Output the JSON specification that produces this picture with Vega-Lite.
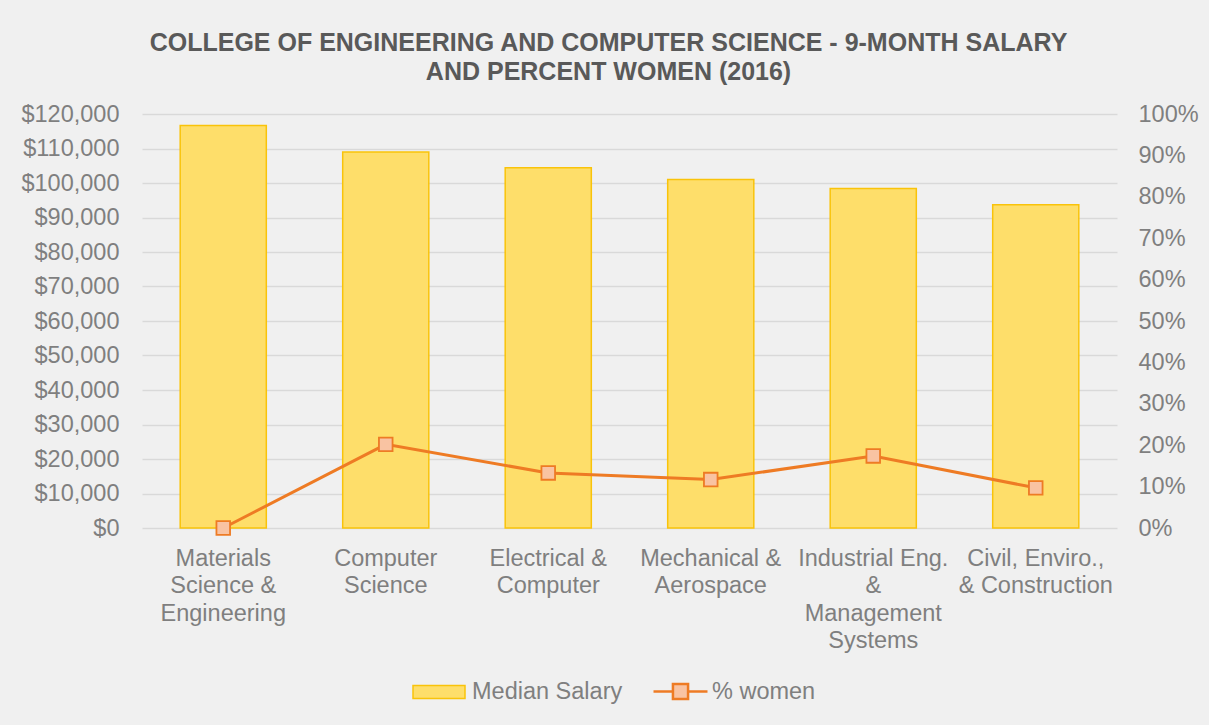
{
  "$schema": "https://vega.github.io/schema/vega-lite/v6.json",
  "width": 975,
  "height": 414,
  "autosize": {"type": "none"},
  "padding": {"left": 142, "top": 114, "right": 92, "bottom": 197},
  "background": "#F0F0F0",
  "config": {
    "font": "Liberation Sans",
    "view": {"stroke": null},
    "legend": {"padding": 0}
  },
  "title": {
    "text": ["COLLEGE OF ENGINEERING AND COMPUTER SCIENCE - 9-MONTH SALARY", "AND PERCENT WOMEN (2016)"],
    "font": "Liberation Sans",
    "fontSize": 25,
    "fontWeight": "bold",
    "color": "#595959",
    "lineHeight": 29,
    "anchor": "middle",
    "offset": 17,
    "dx": -21
  },
  "data": {
    "values": [
      {"department": "Materials|Science &|Engineering", "median_salary": 116700, "pct_women": 0.0},
      {"department": "Computer|Science", "median_salary": 109000, "pct_women": 0.202},
      {"department": "Electrical &|Computer", "median_salary": 104400, "pct_women": 0.133},
      {"department": "Mechanical &|Aerospace", "median_salary": 101000, "pct_women": 0.117},
      {"department": "Industrial Eng.|&|Management|Systems", "median_salary": 98400, "pct_women": 0.174},
      {"department": "Civil, Enviro.,|& Construction", "median_salary": 93700, "pct_women": 0.097}
    ]
  },
  "encoding": {
    "x": {
      "field": "department",
      "type": "nominal",
      "sort": null,
      "scale": {"paddingInner": 0.47, "paddingOuter": 0.235},
      "axis": {
        "title": null,
        "domain": false,
        "ticks": false,
        "labelAngle": 0,
        "labelExpr": "split(datum.value, '|')",
        "labelFontSize": 23.5,
        "labelColor": "#7F7F7F",
        "labelPadding": 18,
        "labelLineHeight": 27.5,
        "labelLimit": 400,
        "labelOverlap": false,
        "labelBound": false
      }
    }
  },
  "layer": [
    {
      "mark": {"type": "bar", "stroke": "#F9C30A", "strokeWidth": 1.5},
      "encoding": {
        "y": {
          "field": "median_salary",
          "type": "quantitative",
          "scale": {"domain": [0, 120000]},
          "axis": {
            "title": null,
            "format": "$,.0f",
            "values": [0, 10000, 20000, 30000, 40000, 50000, 60000, 70000, 80000, 90000, 100000, 110000, 120000],
            "domain": false,
            "ticks": false,
            "labelPadding": 23,
            "labelFontSize": 23.5,
            "labelColor": "#7F7F7F",
            "grid": true,
            "gridColor": "#D9D9D9",
            "gridWidth": 1.5
          }
        },
        "fill": {
          "datum": "Median Salary",
          "scale": {"range": ["#FEDE6A"]},
          "legend": {
            "orient": "none",
            "legendX": 270,
            "legendY": 551,
            "title": null,
            "symbolType": "M-1,-0.25H1V0.25H-1Z",
            "symbolSize": 2704,
            "symbolStrokeColor": "#F9C30A",
            "symbolStrokeWidth": 1.5,
            "labelFontSize": 23.5,
            "labelColor": "#7F7F7F",
            "labelOffset": 6,
            "labelLimit": 400
          }
        }
      }
    },
    {
      "encoding": {
        "y": {
          "field": "pct_women",
          "type": "quantitative",
          "scale": {"domain": [0, 1]},
          "axis": {
            "orient": "right",
            "title": null,
            "format": ".0%",
            "values": [0, 0.1, 0.2, 0.3, 0.4, 0.5, 0.6, 0.7, 0.8, 0.9, 1],
            "domain": false,
            "ticks": false,
            "grid": false,
            "labelPadding": 21,
            "labelFontSize": 23.5,
            "labelColor": "#7F7F7F"
          }
        }
      },
      "layer": [
        {
          "mark": {"type": "line", "strokeWidth": 3},
          "encoding": {
            "stroke": {
              "datum": "% women",
              "scale": {"range": ["#EE7B24"]},
              "legend": {
                "orient": "none",
                "legendX": 510,
                "legendY": 549,
                "title": null,
                "symbolType": "M-1,0H-0.28M0.28,0H1M-0.28,-0.28H0.28V0.28H-0.28Z",
                "symbolSize": 2916,
                "symbolFillColor": "#F9C3A2",
                "symbolStrokeWidth": 2.5,
                "labelFontSize": 23.5,
                "labelColor": "#7F7F7F",
                "labelOffset": 3,
                "labelLimit": 400
              }
            }
          }
        },
        {
          "mark": {"type": "point", "shape": "square", "filled": true, "size": 185, "fill": "#F9C3A2", "stroke": "#EE7B24", "strokeWidth": 1.8, "opacity": 1}
        }
      ]
    }
  ],
  "resolve": {"scale": {"y": "independent"}}
}
